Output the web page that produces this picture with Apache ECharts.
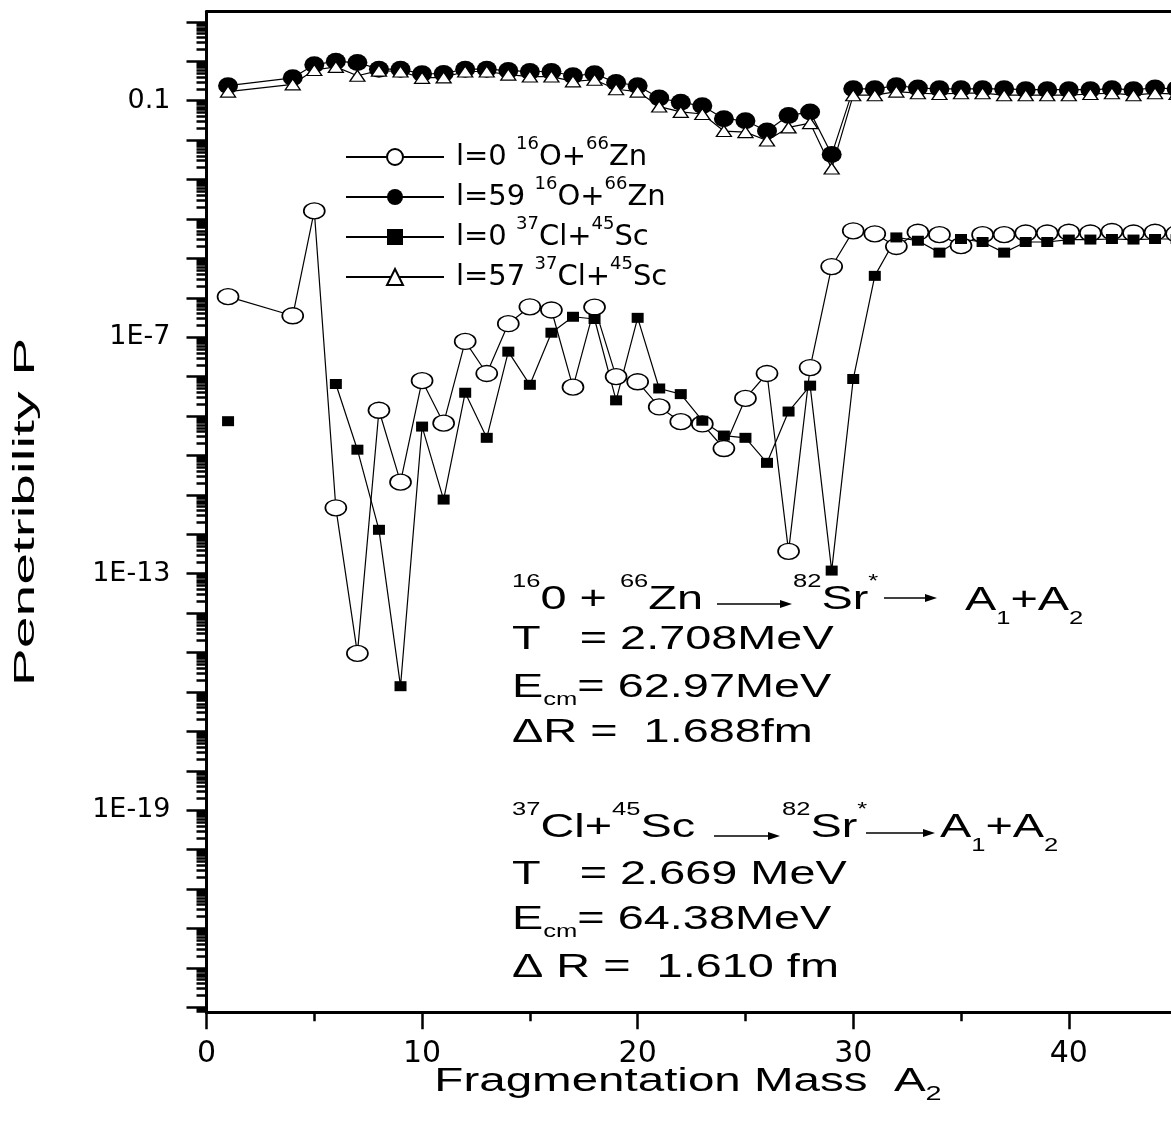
<!DOCTYPE html>
<html><head><meta charset="utf-8">
<script src="https://cdn.jsdelivr.net/npm/echarts@6/dist/echarts.min.js"></script>
<style>html,body{margin:0;padding:0;background:#fff}#c{width:1171px;height:1132px}</style>
</head><body><div id="c"></div>
<script>
// ---------------- data ----------------
const massA = [1,2,3,4,5,6,7,8,9,10,11,12,13,14,15,16,17,18,19,20,21,22,23,24,25,26,27,28,29,30,31,32,33,34,35,36,37,38,39,40,41,42,43,44,45];
// l=0  16O+66Zn  (open circles)
const pO16_l0 = [1.07e-6,null,null,3.5e-7,1.6e-4,4.7e-12,9.5e-16,1.4e-9,2.1e-11,7.9e-9,6.6e-10,7.8e-8,1.2e-8,2.2e-7,5.9e-7,4.9e-7,5.4e-9,5.8e-7,1.0e-8,7.4e-9,1.7e-9,7.2e-10,6.3e-10,1.5e-10,2.8e-9,1.2e-8,3.7e-13,1.7e-8,6.2e-6,5.0e-5,4.2e-5,2.0e-5,4.6e-5,4.0e-5,2.1e-5,4.0e-5,4.0e-5,4.4e-5,4.4e-5,4.6e-5,4.4e-5,4.8e-5,4.4e-5,4.6e-5,4.2e-5];
// l=59 16O+66Zn  (filled circles)
const pO16_l59 = [0.24,null,null,0.38,0.82,1.0,0.93,0.63,0.63,0.48,0.49,0.63,0.63,0.58,0.55,0.55,0.43,0.48,0.29,0.24,0.117,0.091,0.074,0.035,0.031,0.017,0.042,0.052,0.0043,0.20,0.20,0.24,0.21,0.20,0.20,0.20,0.20,0.19,0.19,0.19,0.19,0.20,0.19,0.21,0.20];
// l=0  37Cl+45Sc (filled squares)
const pCl37_l0 = [7.4e-10,null,null,null,null,6.5e-9,1.4e-10,1.3e-12,1.4e-16,5.4e-10,7.6e-12,3.9e-9,2.8e-10,4.3e-8,6.2e-9,1.3e-7,3.3e-7,2.9e-7,2.5e-9,3.1e-7,5.0e-9,3.6e-9,7.6e-10,3.2e-10,2.8e-10,6.5e-11,1.3e-9,5.9e-9,1.2e-13,8.7e-9,3.6e-6,3.4e-5,2.8e-5,1.4e-5,3.1e-5,2.6e-5,1.4e-5,2.6e-5,2.6e-5,3.0e-5,3.0e-5,3.1e-5,3.0e-5,3.1e-5,3.1e-5];
// l=57 37Cl+45Sc (open triangles)
const pCl37_l57 = [0.17,null,null,0.26,0.60,0.72,0.43,0.58,0.55,0.38,0.39,0.55,0.55,0.46,0.41,0.41,0.31,0.34,0.195,0.17,0.071,0.052,0.046,0.017,0.016,0.0098,0.021,0.027,0.0019,0.138,0.138,0.17,0.155,0.148,0.155,0.155,0.138,0.138,0.138,0.138,0.148,0.155,0.138,0.155,0.148];

const seriesNames = ['l=0 16O+66Zn','l=59 16O+66Zn','l=0 37Cl+45Sc','l=57 37Cl+45Sc'];
const legendLabels = ['l=0 {sup|16}O+{sup|66}Zn','l=59 {sup|16}O+{sup|66}Zn','l=0 {sup|37}Cl+{sup|45}Sc','l=57 {sup|37}Cl+{sup|45}Sc'];
const xTickValues = [0,10,20,30,40];
const xMinorTickValues = [5,15,25,35];
const yLabelExponents = [-1,-7,-13,-19];
const yTickLabels = ['0.1','1E-7','1E-13','1E-19'];

// axis extents (log10 exponents of the y range) and x range
const Y_MIN_EXP = -24.127, Y_MAX_EXP = 1.263;
const X_MAX = 44.74;

// decade / sub-decade tick positions in exponent space
const yMajorTicks = [];
const yMinorTicks = [];
for (let n = -25; n <= 1; n++) {
  if (n >= Y_MIN_EXP && n <= Y_MAX_EXP) yMajorTicks.push(n);
  for (let k = 2; k <= 9; k++) {
    const v = n + Math.log10(k);
    if (v >= Y_MIN_EXP && v <= Y_MAX_EXP) yMinorTicks.push(v);
  }
}

function pairs(arr){ return massA.map((a,i)=> arr[i]==null ? [a,'-'] : [a, arr[i]]); }

const LAB = 'DejaVu Sans';
const TXT = 'Liberation Sans';

const chart = echarts.init(document.getElementById('c'), null, {renderer:'canvas'});

function note(x, y, text, lh) {
  return {
    type:'text', x:x, y:y, scaleX:1.42, silent:true, z:50,
    style:{
      text:text, fontFamily:TXT, fontSize:33, fill:'#000', lineHeight:lh||36,
      align:'left', verticalAlign:'middle',
      rich:{
        sup:{fontFamily:TXT, fontSize:18, lineHeight:18, verticalAlign:'top', fill:'#000'},
        sub:{fontFamily:TXT, fontSize:18, lineHeight:18, verticalAlign:'bottom', fill:'#000'}
      }
    }
  };
}
function arrow(x1, x2, y) {
  return {
    type:'group', silent:true, z:50,
    children:[
      {type:'line', shape:{x1:x1, y1:y, x2:x2-8, y2:y}, style:{stroke:'#000', lineWidth:1.5}},
      {type:'polygon', shape:{points:[[x2,y],[x2-12,y-4],[x2-12,y+4]]}, style:{fill:'#000'}}
    ]
  };
}

const option = {
  animation:false,
  backgroundColor:'#fff',
  textStyle:{fontFamily:LAB, color:'#000'},
  grid:{left:206.5, right:0, top:11.5, bottom:119.7, outerBoundsMode:'none', containLabel:false},
  legend:{
    orient:'vertical', left:345, top:135, padding:0,
    itemWidth:98, itemHeight:20, itemGap:-4, selectedMode:false,
    data:seriesNames,
    formatter:function(name){ return legendLabels[seriesNames.indexOf(name)]; },
    textStyle:{
      fontFamily:LAB, fontSize:29, color:'#000', lineHeight:44, padding:[0,0,0,7],
      rich:{sup:{fontFamily:LAB, fontSize:18, lineHeight:16, verticalAlign:'top', color:'#000'}}
    }
  },
  xAxis:[
    {type:'value', min:0, max:X_MAX, position:'bottom',
     axisLine:{onZero:false, lineStyle:{color:'#000', width:3}},
     axisTick:{customValues:xTickValues, length:17, lineStyle:{color:'#000', width:2.5}},
     axisLabel:{customValues:xTickValues, margin:27, fontFamily:LAB, fontSize:30, color:'#000'},
     splitLine:{show:false}},
    {type:'value', min:0, max:X_MAX, position:'bottom',
     axisLine:{show:false, onZero:false},
     axisTick:{customValues:xMinorTickValues, length:9, lineStyle:{color:'#000', width:2.5}},
     axisLabel:{show:false}, splitLine:{show:false}},
    {type:'value', min:0, max:X_MAX, position:'top',
     axisLine:{show:true, onZero:false, lineStyle:{color:'#000', width:3}},
     axisTick:{show:false}, axisLabel:{show:false}, splitLine:{show:false}}
  ],
  yAxis:[
    {type:'log', logBase:10, min:Math.pow(10,Y_MIN_EXP), max:Math.pow(10,Y_MAX_EXP), position:'left',
     axisLine:{show:false, onZero:false}, axisTick:{show:false}, axisLabel:{show:false}, splitLine:{show:false}},
    {type:'value', min:Y_MIN_EXP, max:Y_MAX_EXP, position:'left',
     axisLine:{show:true, onZero:false, lineStyle:{color:'#000', width:3}},
     axisTick:{customValues:yMajorTicks, length:20, lineStyle:{color:'#000', width:2.5}},
     axisLabel:{customValues:yLabelExponents, margin:36, fontFamily:LAB, fontSize:27, color:'#000',
       formatter:function(v){ const i = yLabelExponents.indexOf(Math.round(v)); return i<0?'':yTickLabels[i]; }},
     splitLine:{show:false}},
    {type:'value', min:Y_MIN_EXP, max:Y_MAX_EXP, position:'left',
     axisLine:{show:false, onZero:false},
     axisTick:{customValues:yMinorTicks, length:10, lineStyle:{color:'#000', width:2.5}},
     axisLabel:{show:false}, splitLine:{show:false}}
  ],
  series:[
    {name:seriesNames[0], type:'line', xAxisIndex:0, yAxisIndex:0, data:pairs(pO16_l0),
     connectNulls:true, clip:false, symbol:'circle', symbolSize:[21,16],
     lineStyle:{color:'#000', width:1.2}, itemStyle:{color:'#fff', borderColor:'#000', borderWidth:1.5},
     emphasis:{disabled:true}},
    {name:seriesNames[1], type:'line', xAxisIndex:0, yAxisIndex:0, data:pairs(pO16_l59),
     connectNulls:true, clip:false, symbol:'circle', symbolSize:[20,17],
     lineStyle:{color:'#000', width:1.2}, itemStyle:{color:'#000'},
     emphasis:{disabled:true}},
    {name:seriesNames[2], type:'line', xAxisIndex:0, yAxisIndex:0, data:pairs(pCl37_l0),
     connectNulls:false, clip:false, symbol:'rect', symbolSize:[12,10],
     lineStyle:{color:'#000', width:1.2}, itemStyle:{color:'#000'},
     emphasis:{disabled:true}},
    {name:seriesNames[3], type:'line', xAxisIndex:0, yAxisIndex:0, data:pairs(pCl37_l57),
     connectNulls:true, clip:false, symbol:'triangle', symbolSize:[15,11],
     lineStyle:{color:'#000', width:1.2}, itemStyle:{color:'#fff', borderColor:'#000', borderWidth:1.3},
     emphasis:{disabled:true}}
  ],
  graphic:[
    // axis titles
    {type:'text', x:688, y:1082, scaleX:1.44, silent:true,
     style:{text:'Fragmentation Mass  A{sub|2}', fontFamily:TXT, fontSize:33, fill:'#000', lineHeight:44,
       align:'center', verticalAlign:'middle',
       rich:{sub:{fontFamily:TXT, fontSize:20, lineHeight:20, verticalAlign:'bottom', fill:'#000'}}}},
    {type:'text', x:26, y:512, rotation:Math.PI/2, scaleX:1.9, silent:true,
     style:{text:'Penetribility P', fontFamily:TXT, fontSize:30, fill:'#000', align:'center', verticalAlign:'middle'}},
    // reaction annotations
    note(512, 600, '{sup|16}0 + {sup|66}Zn', 54),
    arrow(717, 792, 604),
    note(793, 600, '{sup|82}Sr{sup|*}', 54),
    arrow(884, 937, 598),
    note(965, 601, 'A{sub|1}+A{sub|2}', 54),
    note(512, 640, 'T   = 2.708MeV'),
    note(512, 688, 'E{sub|cm}= 62.97MeV', 42),
    note(512, 733, '\u0394R =  1.688fm'),
    note(512, 828, '{sup|37}Cl+{sup|45}Sc', 54),
    arrow(714, 780, 836),
    note(782, 828, '{sup|82}Sr{sup|*}', 54),
    arrow(866, 935, 833),
    note(940, 828, 'A{sub|1}+A{sub|2}', 54),
    note(512, 875, 'T   = 2.669 MeV'),
    note(512, 920, 'E{sub|cm}= 64.38MeV', 42),
    note(512, 968, '\u0394 R =  1.610 fm')
  ]
};
chart.setOption(option);
</script>
</body></html>
